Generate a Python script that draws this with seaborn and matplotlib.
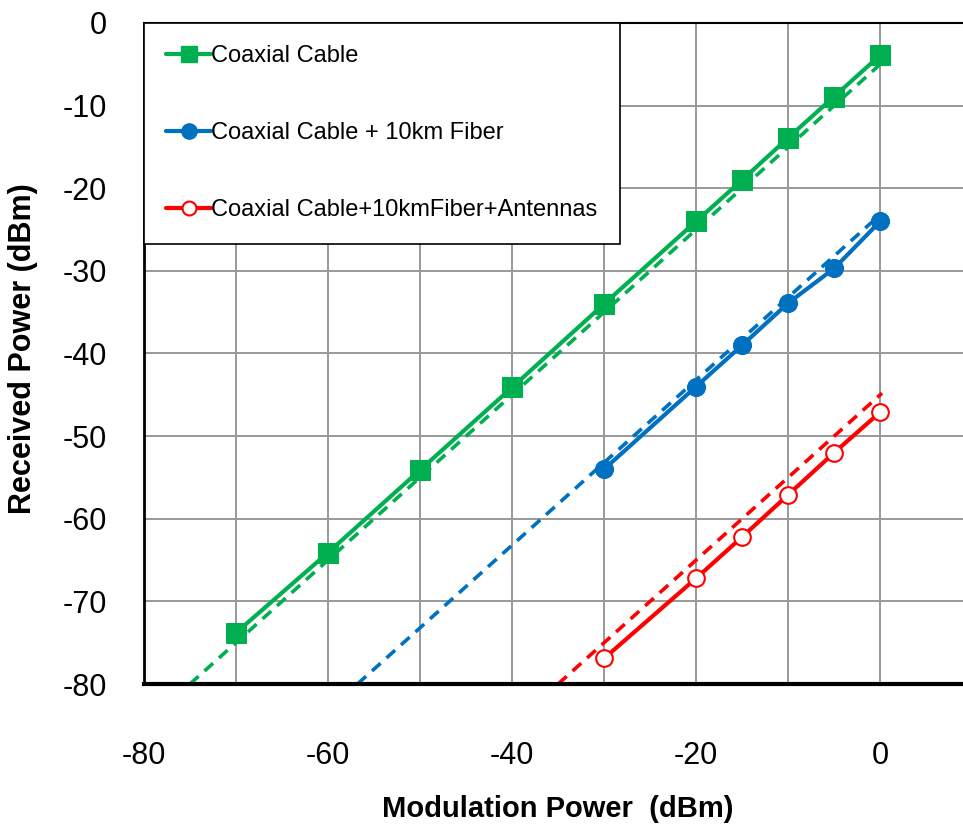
import matplotlib
matplotlib.use("Agg")
import matplotlib.pyplot as plt
import seaborn as sns
from matplotlib.lines import Line2D

# Measured points (modulation power vs received power, dBm)
x_coax = [-70, -60, -50, -40, -30, -20, -15, -10, -5, 0]
y_coax = [-73.8, -64.1, -54.1, -44.1, -34.0, -24.0, -19.0, -13.9, -8.9, -3.9]

x_fiber = [-30, -20, -15, -10, -5, 0]
y_fiber = [-54.0, -44.0, -39.0, -33.9, -29.7, -24.0]

x_ant = [-30, -20, -15, -10, -5, 0]
y_ant = [-76.9, -67.2, -62.2, -57.1, -52.0, -47.1]

# Dashed reference lines (end points)
x_coax_ref = [-75.0, 0]
y_coax_ref = [-80.0, -5.0]
x_fiber_ref = [-56.8, -0.9]
y_fiber_ref = [-80.0, -24.1]
x_ant_ref = [-35.0, 0.2]
y_ant_ref = [-80.0, -44.8]

labels = ["Coaxial Cable", "Coaxial Cable + 10km Fiber", "Coaxial Cable+10kmFiber+Antennas"]
green, blue, red = "#00B050", "#0070C0", "#FF0000"

sns.set_style("white")
plt.rcParams["font.family"] = ["Liberation Sans", "DejaVu Sans"]
plt.rcParams["axes.unicode_minus"] = False
for key in ["text.color", "axes.labelcolor", "xtick.color", "ytick.color"]:
    plt.rcParams[key] = "black"

fig = plt.figure(figsize=(9.63, 8.3), dpi=100)
ax = fig.add_axes([0.1495, 0.1759, 0.8505, 0.7964])

dash = (3.2, 2.2)
sns.lineplot(x=x_coax_ref, y=y_coax_ref, ax=ax, color=green, lw=2.6,
             linestyle=(0, dash), zorder=2)
sns.lineplot(x=x_fiber_ref, y=y_fiber_ref, ax=ax, color=blue, lw=2.6,
             linestyle=(0, dash), zorder=2)
sns.lineplot(x=x_ant_ref, y=y_ant_ref, ax=ax, color=red, lw=2.6,
             linestyle=(0, dash), zorder=2)

sns.lineplot(x=x_coax, y=y_coax, ax=ax, color=green, lw=3, marker="s", markersize=14,
             markeredgecolor=green, zorder=3)
sns.lineplot(x=x_fiber, y=y_fiber, ax=ax, color=blue, lw=3, marker="o", markersize=13,
             markeredgecolor=blue, zorder=3)
sns.lineplot(x=x_ant, y=y_ant, ax=ax, color=red, lw=3, marker="o", markersize=12,
             markerfacecolor="white", markeredgecolor=red, markeredgewidth=1.5, zorder=3)

ax.set_xlim(-80, 9)
ax.set_ylim(-80, 0)
ax.set_xticks(range(-80, 1, 20))
ax.set_xticks(range(-80, 10, 10), minor=True)
ax.set_yticks(range(-80, 1, 10))
ax.grid(True, which="both", color="#999999", lw=1.4, zorder=0)
ax.set_axisbelow(True)
ax.tick_params(axis="both", which="both", length=0, labelsize=22)
ax.tick_params(axis="x", pad=41)
ax.tick_params(axis="y", pad=26.5)

ax.spines["left"].set_color("black")
ax.spines["bottom"].set_color("black")
ax.spines["left"].set_linewidth(2)
ax.spines["bottom"].set_linewidth(3)
ax.spines["top"].set_color("black")
ax.spines["top"].set_linewidth(1.5)
ax.spines["right"].set_visible(False)

ax.set_xlabel("Modulation Power  (dBm)", fontsize=21, fontweight="bold")
ax.set_ylabel("Received Power (dBm)", fontsize=22, fontweight="bold")
ax.xaxis.set_label_coords(0.505, -0.168)
ax.yaxis.set_label_coords(-0.1294, 0.508)

handles = [
    Line2D([], [], color=green, lw=3, marker="s", markersize=11),
    Line2D([], [], color=blue, lw=3, marker="o", markersize=11),
    Line2D([], [], color=red, lw=3, marker="o", markersize=10,
           markerfacecolor="white", markeredgecolor=red, markeredgewidth=1.5),
]
leg = ax.legend(handles, labels, loc="upper left", bbox_to_anchor=(0, 1),
                borderaxespad=0, fontsize=17, frameon=True, fancybox=False,
                handlelength=1.9, handletextpad=0.0, labelspacing=2.33,
                borderpad=0.95, framealpha=1)
leg.get_frame().set_edgecolor("black")
leg.get_frame().set_linewidth(1.2)

fig.savefig("out.png", dpi=100)
